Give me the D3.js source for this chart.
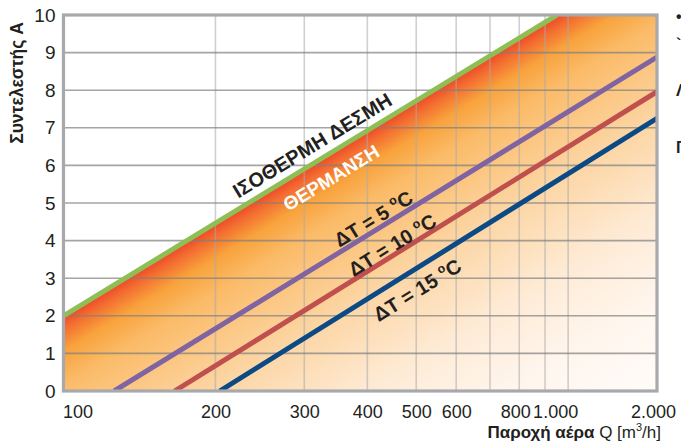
<!DOCTYPE html>
<html><head><meta charset="utf-8">
<script src="https://cdn.jsdelivr.net/npm/d3@7"></script>
<style>
body{margin:0;background:#fff}
svg{display:block;font-family:"Liberation Sans",Arial,Helvetica,sans-serif}
</style>
</head><body>
<svg id="chart" width="681" height="443"></svg>
<script>
// ---------- data ----------
const yTickValues = [0,1,2,3,4,5,6,7,8,9,10];
const xGridValues = [200,300,400,500,600,700,800,900,1000];
const xTickValues = [100,200,300,400,500,600,800,1000,1500];
const xTickLabels = ["100","200","300","400","500","600","800","1.000","2.000"];

const isothermQ = [100, 950];   const isothermA = [2, 10];
const dt5Q  = [126, 1500];      const dt5A  = [0, 8.88];
const dt10Q = [166, 1500];      const dt10A = [0, 7.96];
const dt15Q = [204, 1500];      const dt15A = [0, 7.25];

const seriesNames  = ["isotherm","dt5","dt10","dt15"];
const seriesColors = ["#8fbe55","#8064a2","#c0504d","#0c4a85"];

// ---------- setup ----------
const svg = d3.select("#chart");
const L = 63.5, R = 657, T = 15, B = 391;
const x = d3.scaleLog().domain([100,1500]).range([L,R]);
const y = d3.scaleLinear().domain([0,10]).range([B,T]);

const zip = (qs, as) => qs.map((q,i)=>({q, a:as[i]}));
const series = [
  zip(isothermQ, isothermA),
  zip(dt5Q, dt5A),
  zip(dt10Q, dt10A),
  zip(dt15Q, dt15A)
];

const defs = svg.append("defs");
defs.append("clipPath").attr("id","plotclip")
  .append("rect").attr("x",L).attr("y",T).attr("width",R-L).attr("height",B-T);

// gradient perpendicular to isotherm line
const p0 = [x(isothermQ[0]), y(isothermA[0])];
const p1 = [x(isothermQ[1]), y(isothermA[1])];
const dx = p1[0]-p0[0], dy = p1[1]-p0[1];
const len = Math.hypot(dx,dy);
const n = [-dy/len, dx/len];
const dist = (R-p0[0])*n[0] + (B-p0[1])*n[1];
const grad = defs.append("linearGradient").attr("id","heat")
  .attr("gradientUnits","userSpaceOnUse")
  .attr("x1",p0[0]).attr("y1",p0[1])
  .attr("x2",p0[0]+n[0]*dist).attr("y2",p0[1]+n[1]*dist);
[[0,"#ee4628"],[0.03,"#f36d30"],[0.08,"#f8a23c"],[0.16,"#fbbb68"],
 [0.37,"#fcd5a3"],[0.6,"#feebd6"],[0.78,"#fff5ec"],[1,"#fffcf9"]]
 .forEach(s=>grad.append("stop").attr("offset",s[0]).attr("stop-color",s[1]));

const plot = svg.append("g").attr("clip-path","url(#plotclip)");

// fill area below isotherm
const fillPts = series[0].concat([{q:1500, a:10}]);
plot.append("path")
  .datum(fillPts)
  .attr("fill","url(#heat)")
  .attr("d", d3.area().x(d=>x(d.q)).y0(y(0)).y1(d=>y(d.a)));

// grid
plot.selectAll(".vg").data(xGridValues).enter().append("line")
  .attr("x1",d=>x(d)).attr("x2",d=>x(d)).attr("y1",T).attr("y2",B)
  .attr("stroke","#aaaaaa").attr("stroke-opacity",0.55).attr("stroke-width",1.6);
plot.selectAll(".hg").data(yTickValues.slice(1,-1)).enter().append("line")
  .attr("x1",L).attr("x2",R).attr("y1",d=>y(d)).attr("y2",d=>y(d))
  .attr("stroke","#7f7f7f").attr("stroke-opacity",0.7).attr("stroke-width",1.6);

// lines
const line = d3.line().x(d=>x(d.q)).y(d=>y(d.a));
plot.selectAll(".ser").data(series).enter().append("path")
  .attr("d", line).attr("fill","none")
  .attr("stroke",(d,i)=>seriesColors[i]).attr("stroke-width",5);

// border
svg.append("rect").attr("x",L).attr("y",T).attr("width",R-L).attr("height",B-T)
  .attr("fill","none").attr("stroke","#a7a9ac").attr("stroke-width",3.2);

// axes
const yAxis = d3.axisLeft(y).tickValues(yTickValues).tickSize(0).tickPadding(7);
const gy = svg.append("g").attr("transform",`translate(${L},0)`).call(yAxis);
gy.select(".domain").remove();
gy.selectAll("text").attr("font-size",19).attr("fill","#231f20")
  .attr("font-family","Liberation Sans, Arial, sans-serif").attr("dx",-1);

const xAxis = d3.axisBottom(x).tickValues(xTickValues)
  .tickFormat((d,i)=>xTickLabels[i]).tickSize(0).tickPadding(0);
const gx = svg.append("g").attr("transform",`translate(0,${B})`).call(xAxis);
gx.select(".domain").remove();
gx.selectAll("text").attr("font-size",18).attr("fill","#231f20")
  .attr("font-family","Liberation Sans, Arial, sans-serif")
  .attr("dy",null).attr("y",27)
  .attr("dx",(d,i)=> i===0 ? 14 : (i===6 ? -4 : (i===7 ? -13 : (i===8 ? -4 : 0))));

// axis titles
svg.append("text").attr("transform","translate(23,83) rotate(-90)")
  .attr("text-anchor","middle").attr("font-weight","bold").attr("font-size",17.5)
  .attr("fill","#231f20").text("Συντελεστής A");

const xt = svg.append("text").attr("x",661).attr("y",438).attr("text-anchor","end")
  .attr("font-size",17).attr("fill","#231f20");
xt.append("tspan").attr("font-weight","bold").text("Παροχή αέρα");
xt.append("tspan").text(" Q [m");
xt.append("tspan").attr("font-size",11).attr("dy",-7).text("3");
xt.append("tspan").attr("dy",7).text("/h]");

// line labels
function lineLabel(s, q, v, parts, color, size){
  const a0 = s[0], a1 = s[1];
  const px0 = [x(a0.q), y(a0.a)], px1 = [x(a1.q), y(a1.a)];
  const ang = Math.atan2(px1[1]-px0[1], px1[0]-px0[0]) * 180/Math.PI;
  const t = (Math.log(q)-Math.log(a0.q))/(Math.log(a1.q)-Math.log(a0.q));
  const cx = px0[0] + t*(px1[0]-px0[0]);
  const cy = px0[1] + t*(px1[1]-px0[1]) - v;
  const txt = svg.append("text")
    .attr("transform",`translate(${cx},${cy}) rotate(${ang})`)
    .attr("text-anchor","middle").attr("dy","0.36em")
    .attr("font-weight","bold").attr("font-size",size).attr("fill",color);
  parts.forEach(p=>{
    const ts = txt.append("tspan").text(p.t);
    if(p.sup){ ts.attr("font-size",size*0.62).attr("dy",-size*0.42); }
    if(p.down){ ts.attr("dy",size*0.42); }
  });
}
lineLabel(series[0], 311, 19, [{t:"ΙΣΟΘΕΡΜΗ ΔΕΣΜΗ"}], "#231f20", 20);
lineLabel(series[0], 339, -25, [{t:"ΘΕΡΜΑΝΣΗ"}], "#ffffff", 19);
lineLabel(series[1], 411, 13, [{t:"ΔT = 5 "},{t:"o",sup:true},{t:"C",down:true}], "#231f20", 20);
lineLabel(series[2], 448, 11, [{t:"ΔT = 10 "},{t:"o",sup:true},{t:"C",down:true}], "#231f20", 20);
lineLabel(series[3], 502, -22, [{t:"ΔT = 15 "},{t:"o",sup:true},{t:"C",down:true}], "#231f20", 20);

// cut-off fragments at right edge
const frag = [["•",22],["`",50],["Λ",96],["Γ",153]];
frag.forEach(f=>svg.append("text").attr("x",676).attr("y",f[1])
  .attr("font-size",16).attr("font-weight","bold").attr("fill","#231f20").text(f[0]));
</script>
</body></html>
